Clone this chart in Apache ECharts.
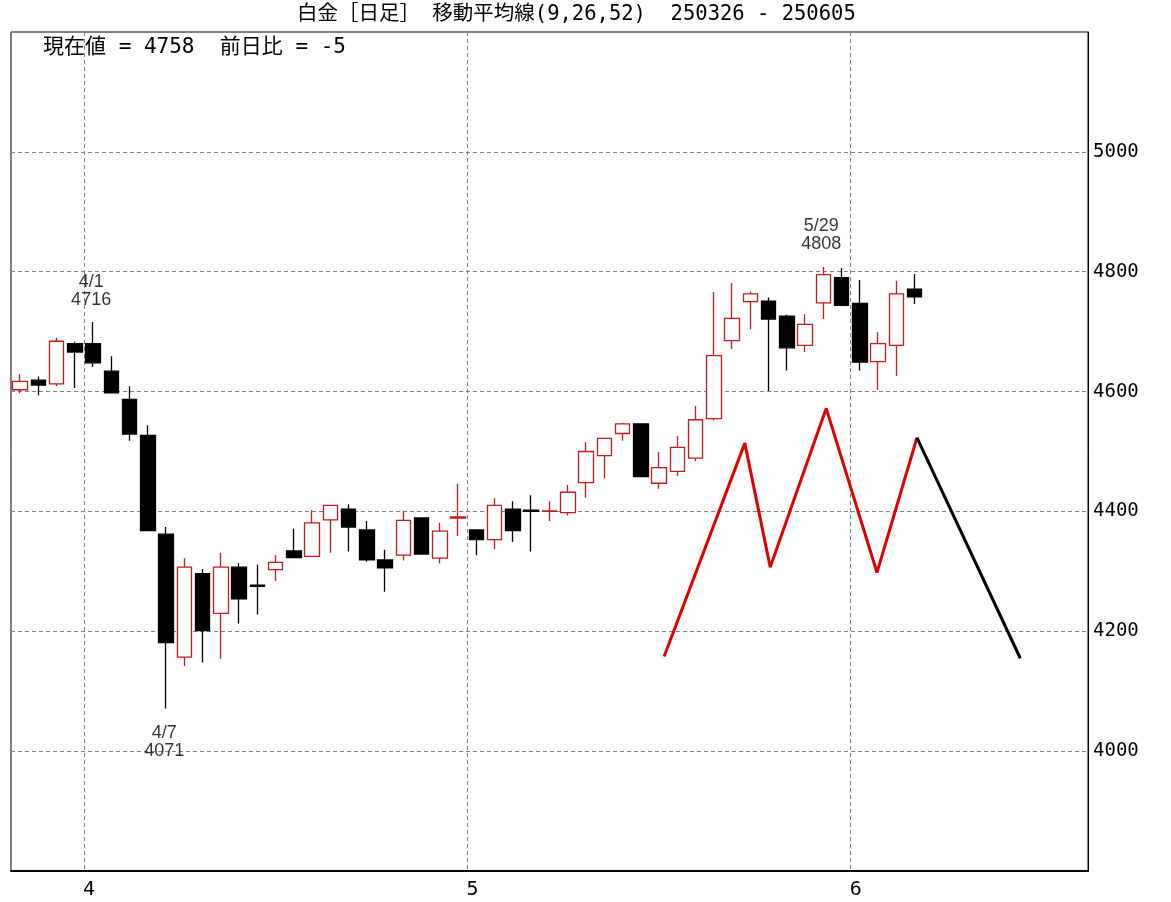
<!DOCTYPE html>
<html>
<head>
<meta charset="utf-8">
<script src="https://cdn.jsdelivr.net/npm/echarts@6/dist/echarts.min.js"></script>
<style>
html,body{margin:0;padding:0;background:#fff;}
#chart{width:1171px;height:902px;}
</style>
</head>
<body>
<div id="chart"></div>
<script>
// ---- data ----
const dates = [
  '2025-03-26','2025-03-27','2025-03-28','2025-03-31',
  '2025-04-01','2025-04-02','2025-04-03','2025-04-04','2025-04-07','2025-04-08','2025-04-09','2025-04-10','2025-04-11',
  '2025-04-14','2025-04-15','2025-04-16','2025-04-17','2025-04-18','2025-04-21','2025-04-22','2025-04-23','2025-04-24',
  '2025-04-25','2025-04-28','2025-04-30',
  '2025-05-01','2025-05-02','2025-05-06','2025-05-07','2025-05-08','2025-05-09','2025-05-12','2025-05-13','2025-05-14',
  '2025-05-15','2025-05-16','2025-05-19','2025-05-20','2025-05-21','2025-05-22','2025-05-23','2025-05-26','2025-05-27',
  '2025-05-28','2025-05-29','2025-05-30',
  '2025-06-02','2025-06-03','2025-06-04','2025-06-05'
];
const opens  = [4603,4619,4613,4680,4680,4634,4587,4527,4362,4157,4296,4230,4307,4277,4303,4334,4325,4386,4404,4369,4319,4327,4389,4322,4389,4369,4353,4404,4402,4400,4398,4448,4493,4530,4546,4447,4467,4489,4555,4685,4750,4751,4726,4677,4748,4790,4747,4650,4677,4771];
const closes = [4617,4611,4684,4666,4648,4598,4529,4368,4181,4307,4201,4307,4254,4275,4315,4323,4381,4410,4374,4319,4306,4385,4329,4367,4391,4353,4410,4368,4400,4401,4432,4500,4522,4546,4458,4473,4507,4553,4660,4722,4763,4721,4673,4712,4795,4744,4649,4680,4763,4758];
const lows   = [4597,4594,4609,4606,4641,4597,4518,4367,4071,4142,4148,4154,4213,4228,4284,4322,4324,4331,4333,4316,4266,4318,4329,4313,4359,4327,4337,4349,4333,4384,4393,4423,4455,4518,4458,4438,4459,4484,4552,4671,4704,4601,4635,4666,4721,4744,4635,4603,4626,4746];
const highs  = [4629,4625,4690,4683,4716,4659,4609,4544,4374,4322,4304,4331,4314,4311,4327,4371,4402,4410,4412,4384,4336,4401,4389,4381,4446,4369,4422,4417,4427,4417,4444,4516,4522,4548,4546,4499,4526,4576,4766,4781,4767,4757,4728,4729,4808,4806,4786,4699,4785,4796];
const emptySlots = 9;               // blank days after the last candle
const yTicks = [3800, 5200, 200];   // min, max, step
// notes on extreme points
const noteIdx    = [4, 8, 44];
const noteValues = [4716, 4071, 4808];
const noteSide   = ['top', 'bottom', 'top'];
// drawn pattern (x in candle-index units)
const patternX = [35.28, 39.70, 41.09, 44.16, 46.94, 49.13];
const patternY = [4158, 4514, 4307, 4572, 4298, 4523];
const projX = [49.13, 54.79];
const projY = [4523, 4155];

// ---- build ----
const cats = dates.concat(Array.from({length: emptySlots}, (_, i) => 'pad' + i));
const nCats = cats.length;
function isMonthStart(i) {
  return i > 0 && i < dates.length && dates[i].slice(5, 7) !== dates[i - 1].slice(5, 7);
}
const candleData = dates.map((d, i) => [opens[i], closes[i], lows[i], highs[i]]);
const last = closes[closes.length - 1];
const diff = last - closes[closes.length - 2];

const monoJP = "'DejaVu Sans Mono','Noto Sans CJK JP',monospace";
const noteData = noteIdx.map((idx, k) => {
  const d = dates[idx];
  const lbl = (+d.slice(5, 7)) + '/' + (+d.slice(8, 10)) + '\n' + noteValues[k];
  return {
    value: [idx, noteValues[k]],
    label: {
      show: true, position: noteSide[k], distance: noteSide[k] === 'top' ? 13 : 15,
      formatter: lbl, offset: [-2, 0], color: '#000',
      fontFamily: "'Liberation Sans',Arial,sans-serif", fontSize: 18, lineHeight: 18, align: 'center'
    }
  };
});

const chart = echarts.init(document.getElementById('chart'), null, {renderer: 'canvas'});
chart.setOption({
  animation: false,
  backgroundColor: '#fff',
  title: [
    {
      text: '白金［日足］ 移動平均線(9,26,52)  250326 - 250605',
      left: 297, top: 4, padding: 0,
      textStyle: {fontFamily: monoJP, fontSize: 20.5, fontWeight: 'normal', color: '#000'}
    },
    {
      text: '現在値 = ' + last + '  前日比 = ' + diff,
      left: 43, top: 37, padding: 0,
      textStyle: {fontFamily: monoJP, fontSize: 21, fontWeight: 'normal', color: '#000'}
    }
  ],
  grid: {left: 11, right: 83, top: 32, bottom: 31, show: true, borderColor: '#000', borderWidth: 1, backgroundColor: 'transparent'},
  xAxis: [
    {
      type: 'category', data: cats, boundaryGap: true,
      axisLine: {show: true, onZero: false, lineStyle: {color: '#000', width: 2}},
      axisTick: {show: false},
      axisLabel: {
        interval: (i) => isMonthStart(i), margin: 9, padding: [0, 8, 0, 0],
        formatter: (v, i) => isMonthStart(i) ? String(+dates[i].slice(5, 7)) : '',
        fontFamily: "'DejaVu Sans Mono',monospace", fontSize: 20, color: '#000'
      },
      splitLine: {show: true, interval: (i) => isMonthStart(i), lineStyle: {color: '#808080', type: [4, 3], width: 1}}
    },
    {
      type: 'value', min: -0.5, max: nCats - 0.5, show: false,
      axisLine: {show: false, onZero: false}, splitLine: {show: false}
    }
  ],
  yAxis: {
    type: 'value', position: 'right', min: yTicks[0], max: yTicks[1], interval: yTicks[2],
    axisLine: {show: true, onZero: false, lineStyle: {color: '#000', width: 1}},
    axisTick: {show: false},
    axisLabel: {
      margin: 5, color: '#000', fontFamily: "'DejaVu Sans Mono',monospace", fontSize: 19,
      formatter: (v) => (v === yTicks[0] || v === yTicks[1]) ? '' : String(v)
    },
    splitLine: {show: true, lineStyle: {color: '#808080', type: [4, 3], width: 1}}
  },
  series: [
    {
      type: 'candlestick', data: candleData, barWidth: 15,
      itemStyle: {color: '#fff', color0: '#000', borderColor: '#c41a1a', borderColor0: '#000', borderWidth: 1.3},
      silent: true
    },
    {
      type: 'scatter', data: noteData, symbolSize: 1, itemStyle: {color: 'transparent'},
      silent: true
    },
    {
      type: 'line', xAxisIndex: 1, data: patternX.map((x, i) => [x, patternY[i]]),
      symbol: 'none', lineStyle: {color: '#e00000', width: 3}, silent: true
    },
    {
      type: 'line', xAxisIndex: 1, data: projX.map((x, i) => [x, projY[i]]),
      symbol: 'none', lineStyle: {color: '#000', width: 3}, silent: true
    }
  ]
});
</script>
</body>
</html>
